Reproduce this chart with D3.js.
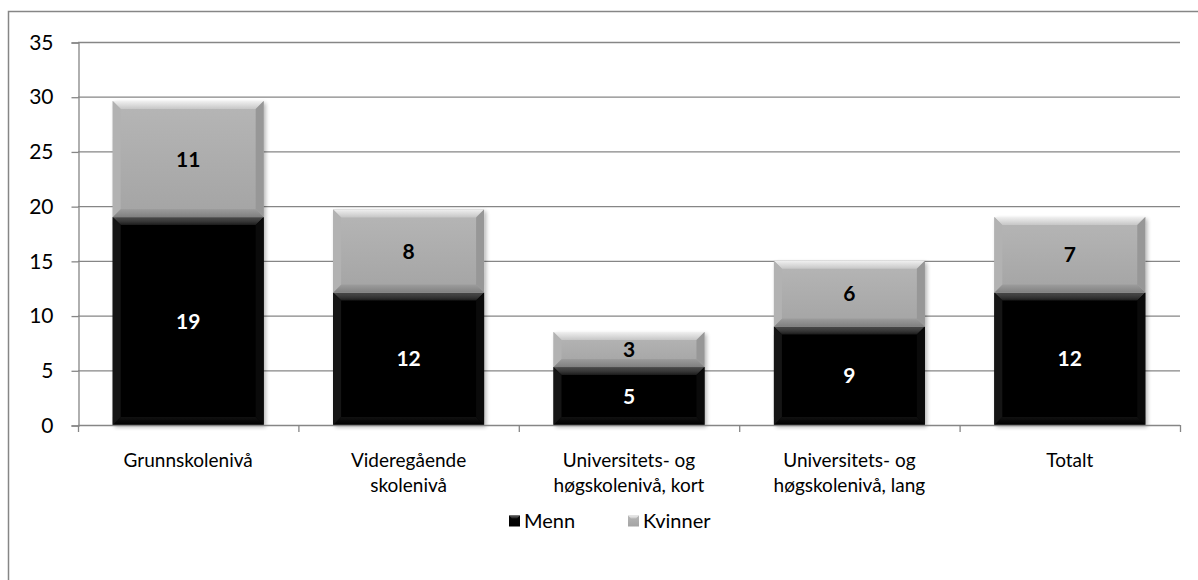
<!DOCTYPE html>
<html>
<head>
<meta charset="utf-8">
<script src="https://cdn.jsdelivr.net/npm/d3@7"></script>
<style>
  html, body { margin: 0; padding: 0; background: #fff; overflow: hidden; }
  svg { display: block; font-family: Lato, "Open Sans", sans-serif; }
</style>
</head>
<body>
<svg width="1198" height="580"></svg>
<script>
// categories (two-line labels split by "|")
var categories = [
    "Grunnskolenivå",
    "Videregående|skolenivå",
    "Universitets- og|høgskolenivå, kort",
    "Universitets- og|høgskolenivå, lang",
    "Totalt"
];
var menn = [19.0, 12.1, 5.3, 9.0, 12.1];
var kvinner = [10.6, 7.6, 3.2, 6.0, 6.9];
var seriesNames = ["Menn", "Kvinner"];
var yTicks = [0, 5, 10, 15, 20, 25, 30, 35];

var svg = d3.select("svg");
var margin = { left: 78, right: 18, top: 42, bottom: 155 };
var W = 1198, H = 580;
var gridCol = "#868686";

// white page background
svg.append("rect").attr("width", W).attr("height", H).attr("fill", "#fff");

// outer frame (runs off the canvas to the right and bottom)
svg.append("path")
    .attr("d", "M8.5,600V11.5H1210")
    .attr("fill", "none").attr("stroke", gridCol).attr("stroke-width", 1.5);

var x = d3.scaleBand()
    .domain(categories)
    .range([margin.left, W - margin.right])
    .paddingInner(0.315).paddingOuter(0.1575);

var y = d3.scaleLinear().domain([0, 35]).range([425, 42]);

var defs = svg.append("defs");
function grad(id, stops, vertical) {
    var g = defs.append("linearGradient").attr("id", id)
        .attr("x1", 0).attr("y1", 0)
        .attr("x2", vertical ? 0 : 1).attr("y2", vertical ? 1 : 0);
    stops.forEach(function (s) {
        g.append("stop").attr("offset", s[0]).attr("stop-color", s[1]);
    });
}
grad("kFace", [[0, "#b6b6b6"], [1, "#a4a4a4"]], true);
grad("kTop", [[0, "#f0f0f0"], [1, "#c6c6c6"]], true);
grad("kBot", [[0, "#9c9c9c"], [1, "#808080"]], true);
grad("mFace", [[0, "#060606"], [1, "#000000"]], true);
grad("mTop", [[0, "#5e5e5e"], [1, "#1a1a1a"]], true);
grad("mBot", [[0, "#111"], [1, "#000"]], true);

var shadow = defs.append("filter").attr("id", "shadow")
    .attr("x", "-10%").attr("y", "-10%").attr("width", "130%").attr("height", "130%");
shadow.append("feGaussianBlur").attr("in", "SourceAlpha").attr("stdDeviation", 2);
shadow.append("feOffset").attr("dx", 2).attr("dy", 2).attr("result", "b");
shadow.append("feComponentTransfer").append("feFuncA").attr("type", "linear").attr("slope", 0.3);
var fm = shadow.append("feMerge");
fm.append("feMergeNode");
fm.append("feMergeNode").attr("in", "SourceGraphic");

// gridlines
svg.append("g").selectAll("line").data(yTicks.slice(1)).enter().append("line")
    .attr("x1", margin.left).attr("x2", W - margin.right)
    .attr("y1", function (d) { return y(d) + 0.5; })
    .attr("y2", function (d) { return y(d) + 0.5; })
    .attr("stroke", gridCol).attr("stroke-width", 1.3);

// y axis
var yAxis = svg.append("g")
    .attr("transform", "translate(" + (margin.left + 0.5) + ",0.5)")
    .call(d3.axisLeft(y).tickValues(yTicks).tickSize(7).tickPadding(18));
yAxis.select(".domain").attr("stroke", gridCol).attr("stroke-width", 1.3);
yAxis.selectAll(".tick line").attr("stroke", gridCol).attr("stroke-width", 1.3);
yAxis.selectAll("text").attr("font-size", 21).attr("fill", "#000")
    .style("font-family", "Lato, sans-serif");

// stacked data
var rows = categories.map(function (c, i) {
    return { cat: c, Menn: menn[i], Kvinner: kvinner[i] };
});
var stack = d3.stack().keys(seriesNames)(rows);

var bev = 8;
function bevelBar(g, x0, y0, w, h, pre) {
    var x1 = x0 + w, y1 = y0 + h;
    var b = Math.min(bev, h / 3);
    g.append("rect").attr("x", x0).attr("y", y0).attr("width", w).attr("height", h)
        .attr("fill", "url(#" + pre + "Face)").attr("filter", "url(#shadow)");
    // top bevel
    g.append("path").attr("d", "M" + x0 + "," + y0 + "L" + x1 + "," + y0 +
        "L" + (x1 - b) + "," + (y0 + b) + "L" + (x0 + b) + "," + (y0 + b) + "Z")
        .attr("fill", "url(#" + pre + "Top)");
    // bottom bevel
    g.append("path").attr("d", "M" + x0 + "," + y1 + "L" + x1 + "," + y1 +
        "L" + (x1 - b) + "," + (y1 - b) + "L" + (x0 + b) + "," + (y1 - b) + "Z")
        .attr("fill", "url(#" + pre + "Bot)");
    // side bevels
    var side = pre === "k" ? ["#b2b2b2", "#979797"] : ["#151515", "#0a0a0a"];
    g.append("path").attr("d", "M" + x0 + "," + y0 + "L" + (x0 + b) + "," + (y0 + b) +
        "L" + (x0 + b) + "," + (y1 - b) + "L" + x0 + "," + y1 + "Z").attr("fill", side[0]);
    g.append("path").attr("d", "M" + x1 + "," + y0 + "L" + (x1 - b) + "," + (y0 + b) +
        "L" + (x1 - b) + "," + (y1 - b) + "L" + x1 + "," + y1 + "Z").attr("fill", side[1]);
}

var fmt = d3.format(".0f");
stack.forEach(function (layer) {
    var pre = layer.key === "Menn" ? "m" : "k";
    layer.forEach(function (d) {
        var g = svg.append("g");
        var x0 = x(d.data.cat), w = x.bandwidth();
        var yt = y(d[1]), yb = y(d[0]);
        bevelBar(g, x0, yt, w, yb - yt, pre);
        g.append("text")
            .attr("x", x0 + w / 2).attr("y", (yt + yb) / 2)
            .attr("dy", "0.36em").attr("text-anchor", "middle")
            .attr("font-size", 21).attr("font-weight", "bold")
            .attr("fill", pre === "m" ? "#fff" : "#000")
            .text(fmt(d[1] - d[0]));
    });
});

// x axis line and category ticks
svg.append("line")
    .attr("x1", margin.left).attr("x2", W - margin.right)
    .attr("y1", y(0) + 0.5).attr("y2", y(0) + 0.5)
    .attr("stroke", gridCol).attr("stroke-width", 1.3);
var step = x.step();
var bounds = d3.range(categories.length + 1).map(function (i) { return margin.left + i * step; });
svg.append("g").selectAll("line").data(bounds).enter().append("line")
    .attr("x1", function (d) { return d + 0.5; }).attr("x2", function (d) { return d + 0.5; })
    .attr("y1", y(0)).attr("y2", y(0) + 7)
    .attr("stroke", gridCol).attr("stroke-width", 1.3);

// category labels
svg.append("g").selectAll("text").data(categories).enter().append("text")
    .attr("x", function (d) { return x(d) + x.bandwidth() / 2; })
    .attr("y", 460)
    .attr("text-anchor", "middle").attr("font-size", 19)
    .each(function (d) {
        var t = d3.select(this);
        d.split("|").forEach(function (line, i) {
            t.append("tspan").attr("x", t.attr("x")).attr("dy", i === 0 ? "0.35em" : 25).text(line);
        });
    });

// legend
var legend = svg.append("g").attr("transform", "translate(509,521)");
var legItems = [
    { name: "Menn", pre: "m", x: 0 },
    { name: "Kvinner", pre: "k", x: 119 }
];
legItems.forEach(function (it) {
    var g = legend.append("g").attr("transform", "translate(" + it.x + ",0)");
    var s = 11;
    g.append("rect").attr("x", 0).attr("y", -s / 2).attr("width", s).attr("height", s)
        .attr("fill", "url(#" + it.pre + "Face)");
    g.append("path").attr("d", "M0," + (-s / 2) + "L" + s + "," + (-s / 2) + "L" + (s - 3) + "," + (-s / 2 + 3) + "L3," + (-s / 2 + 3) + "Z")
        .attr("fill", "url(#" + it.pre + "Top)");
    g.append("text").attr("x", s + 4).attr("dy", "0.35em")
        .attr("font-size", 20).text(it.name);
});
</script>
</body>
</html>
